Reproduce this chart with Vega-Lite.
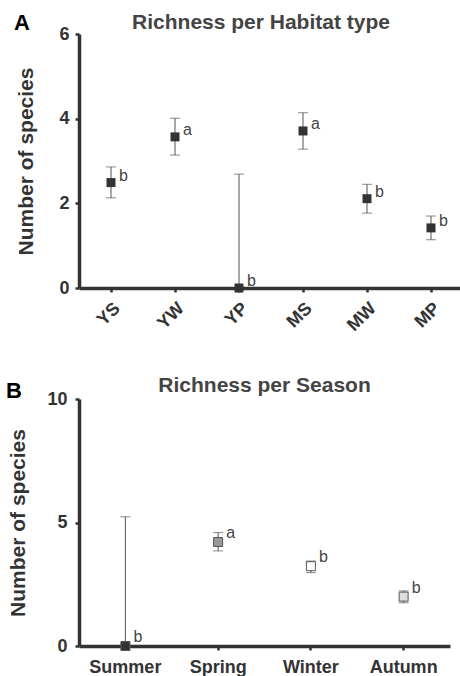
{
  "$schema": "https://vega.github.io/schema/vega-lite/v6.json",
  "background": "white",
  "padding": {"left": 5, "top": 12, "right": 2, "bottom": 0},
  "config": {
    "font": "Liberation Sans",
    "view": {"stroke": null},
    "axis": {
      "domainColor": "#333", "domainWidth": 3.5, "tickColor": "#333", "tickWidth": 2.5, "tickSize": 4,
      "labelFont": "Liberation Sans", "labelFontWeight": "bold", "labelFontSize": 18, "labelColor": "#333",
      "titleFont": "Liberation Sans", "titleFontWeight": "bold", "titleFontSize": 21, "titleColor": "#333",
      "grid": false
    },
    "title": {"font": "Liberation Sans", "fontWeight": "bold", "fontSize": 21, "color": "#444"}
  },
  "spacing": 40,
  "vconcat": [
    {
      "title": {"text": "A", "anchor": "start", "frame": "bounds", "fontSize": 22, "color": "#000", "dy": 27, "dx": -2},
      "vconcat": [
        {
          "width": 384,
          "height": 254,
          "title": {"text": "Richness per Habitat type", "anchor": "middle", "dx": -10, "offset": -8},
          "data": {"values": [
            {"habitat": "YS", "mean": 2.49, "lower": 2.13, "upper": 2.86, "letter": "b"},
            {"habitat": "YW", "mean": 3.57, "lower": 3.14, "upper": 4.01, "letter": "a"},
            {"habitat": "YP", "mean": 0.0, "lower": 0.0, "upper": 2.69, "letter": "b"},
            {"habitat": "MS", "mean": 3.71, "lower": 3.28, "upper": 4.14, "letter": "a"},
            {"habitat": "MW", "mean": 2.11, "lower": 1.77, "upper": 2.45, "letter": "b"},
            {"habitat": "MP", "mean": 1.42, "lower": 1.14, "upper": 1.70, "letter": "b"}
          ]},
          "encoding": {
            "x": {"field": "habitat", "type": "nominal", "sort": null,
                  "scale": {"paddingInner": 0, "paddingOuter": 0},
                  "axis": {"title": null, "labelAngle": -45, "labelPadding": 7}}
          },
          "layer": [
            {"mark": {"type": "rule", "color": "#555", "strokeWidth": 1},
             "encoding": {
               "y": {"field": "lower", "type": "quantitative", "scale": {"domain": [0, 6]},
                     "axis": {"title": "Number of species", "values": [0, 2, 4, 6], "titlePadding": 22, "labelPadding": 6}},
               "y2": {"field": "upper"}}},
            {"mark": {"type": "tick", "orient": "horizontal", "size": 10, "thickness": 1, "color": "#555"},
             "encoding": {"y": {"field": "upper", "type": "quantitative"}}},
            {"mark": {"type": "tick", "orient": "horizontal", "size": 10, "thickness": 1, "color": "#555"},
             "encoding": {"y": {"field": "lower", "type": "quantitative"}}},
            {"mark": {"type": "square", "size": 81, "filled": true, "color": "#333", "opacity": 1},
             "encoding": {"y": {"field": "mean", "type": "quantitative"}}},
            {"mark": {"type": "text", "align": "left", "baseline": "middle", "dx": 8, "dy": -7, "fontSize": 16, "color": "#444"},
             "encoding": {"y": {"field": "mean", "type": "quantitative"}, "text": {"field": "letter"}}}
          ]
        }
      ]
    },
    {
      "title": {"text": "B", "anchor": "start", "frame": "bounds", "fontSize": 22, "color": "#000", "dy": 32, "dx": -2},
      "vconcat": [
        {
          "width": 371,
          "height": 247,
          "title": {"text": "Richness per Season", "anchor": "middle", "offset": -6},
          "data": {"values": [
            {"season": "Summer", "mean": 0.0, "lower": 0.0, "upper": 5.23, "letter": "b"},
            {"season": "Spring", "mean": 4.21, "lower": 3.85, "upper": 4.59, "letter": "a"},
            {"season": "Winter", "mean": 3.23, "lower": 2.97, "upper": 3.44, "letter": "b"},
            {"season": "Autumn", "mean": 2.0, "lower": 1.75, "upper": 2.23, "letter": "b"}
          ]},
          "encoding": {
            "x": {"field": "season", "type": "nominal", "sort": null,
                  "scale": {"paddingInner": 0, "paddingOuter": 0},
                  "axis": {"title": null, "labelAngle": 0, "labelPadding": 8}}
          },
          "layer": [
            {"mark": {"type": "rule", "color": "#555", "strokeWidth": 1},
             "encoding": {
               "y": {"field": "lower", "type": "quantitative", "scale": {"domain": [0, 10]},
                     "axis": {"title": "Number of species", "values": [0, 5, 10], "titlePadding": 18, "labelPadding": 8}},
               "y2": {"field": "upper"}}},
            {"mark": {"type": "tick", "orient": "horizontal", "size": 10, "thickness": 1, "color": "#555"},
             "encoding": {"y": {"field": "upper", "type": "quantitative"}}},
            {"mark": {"type": "tick", "orient": "horizontal", "size": 10, "thickness": 1, "color": "#555"},
             "encoding": {"y": {"field": "lower", "type": "quantitative"}}},
            {"mark": {"type": "square", "size": 81, "filled": true, "opacity": 1, "stroke": "#555", "strokeWidth": 1},
             "encoding": {
               "y": {"field": "mean", "type": "quantitative"},
               "color": {"field": "season", "type": "nominal",
                         "scale": {"domain": ["Summer", "Spring", "Winter", "Autumn"], "range": ["#333333", "#999999", "#ffffff", "#dddddd"]},
                         "legend": null}}},
            {"mark": {"type": "text", "align": "left", "baseline": "middle", "dx": 8, "dy": -9, "fontSize": 16, "color": "#444"},
             "encoding": {"y": {"field": "mean", "type": "quantitative"}, "text": {"field": "letter"}}}
          ]
        }
      ]
    }
  ]
}
